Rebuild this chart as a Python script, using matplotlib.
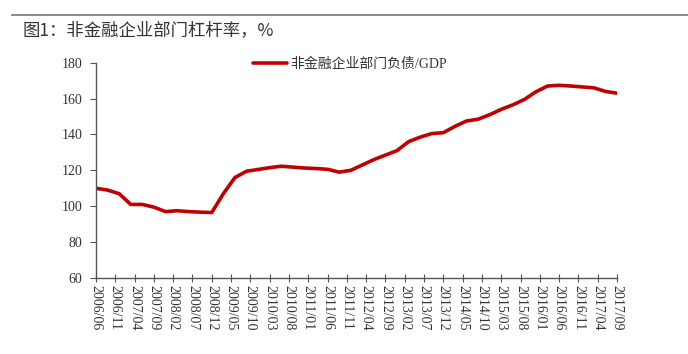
import pandas as pd
import matplotlib.pyplot as plt
from matplotlib.lines import Line2D

plt.rcParams['font.family'] = ['Liberation Serif', 'Noto Sans CJK SC']

TITLE = "图1：非金融企业部门杠杆率，%"
SERIES_NAME = "非金融企业部门负债/GDP"

quarters = [
    "2006-06", "2006-09", "2006-12", "2007-03", "2007-06", "2007-09", "2007-12",
    "2008-03", "2008-06", "2008-09", "2008-12", "2009-03", "2009-06", "2009-09",
    "2009-12", "2010-03", "2010-06", "2010-09", "2010-12", "2011-03", "2011-06",
    "2011-09", "2011-12", "2012-03", "2012-06", "2012-09", "2012-12", "2013-03",
    "2013-06", "2013-09", "2013-12", "2014-03", "2014-06", "2014-09", "2014-12",
    "2015-03", "2015-06", "2015-09", "2015-12", "2016-03", "2016-06", "2016-09",
    "2016-12", "2017-03", "2017-06", "2017-09",
]
leverage = [
    110.0, 109.0, 107.0, 101.0, 101.0, 99.5, 97.0,
    97.5, 97.0, 96.7, 96.5, 107.0, 116.0, 119.5,
    120.5, 121.5, 122.3, 121.8, 121.3, 121.0, 120.6,
    119.0, 120.0, 123.0, 126.0, 128.5, 131.0, 136.0,
    138.5, 140.5, 141.0, 144.5, 147.5, 148.5, 151.0,
    154.0, 156.5, 159.5, 163.8, 167.0, 167.4, 167.0,
    166.5, 166.0, 164.0, 163.0,
]
tick_labels = [
    "2006/06", "2006/11", "2007/04", "2007/09", "2008/02", "2008/07", "2008/12",
    "2009/05", "2009/10", "2010/03", "2010/08", "2011/01", "2011/06", "2011/11",
    "2012/04", "2012/09", "2013/02", "2013/07", "2013/12", "2014/05", "2014/10",
    "2015/03", "2015/08", "2016/01", "2016/06", "2016/11", "2017/04", "2017/09",
]
yticks = [60, 80, 100, 120, 140, 160, 180]

start = pd.Period("2006-06", freq="M")
x = [(pd.Period(q, freq="M") - start).n for q in quarters]
tx = [(pd.Period(t.replace("/", "-"), freq="M") - start).n for t in tick_labels]

fig = plt.figure(figsize=(6.88, 3.54), dpi=100)
ax = fig.add_axes([96 / 688, 1 - 278 / 354, (617 - 96) / 688, (278 - 62.7) / 354])

ax.plot(x, leverage, color='#c00000', linewidth=2.6, solid_capstyle='round',
        solid_joinstyle='round', label=SERIES_NAME)

ax.set_xlim(tx[0], tx[-1])
ax.set_ylim(60, 180)
ax.set_yticks(yticks)
ax.set_xticks(tx)
ax.set_xticklabels(tick_labels, rotation=270, fontsize=10, color='#333333')
ax.tick_params(axis='y', labelsize=10, labelcolor='#333333', length=4,
               color='#555555', pad=6)
ax.tick_params(axis='x', direction='inout', length=6, color='#555555', pad=2)
for s in ('top', 'right'):
    ax.spines[s].set_visible(False)
for s in ('left', 'bottom'):
    ax.spines[s].set_color('#555555')
    ax.spines[s].set_linewidth(1.0)

leg = ax.legend(loc='upper left', bbox_to_anchor=(0.29, 1.05), frameon=False,
                handlelength=2.5, handletextpad=0.2, borderaxespad=0)
for t in leg.get_texts():
    t.set_fontsize(10)
    t.set_family(['Liberation Serif', 'Noto Sans CJK SC'])
    t.set_color('#333333')

fig.add_artist(Line2D([12 / 688, 1.0], [1 - 15 / 354, 1 - 15 / 354],
                      color='#777777', linewidth=1.2))
fig.text(22 / 688, 1 - 30 / 354, TITLE, fontsize=12.5, color='#333333',
         va='center', ha='left', family=['Noto Sans CJK SC', 'DejaVu Sans'])

fig.savefig('out.png', dpi=100)
